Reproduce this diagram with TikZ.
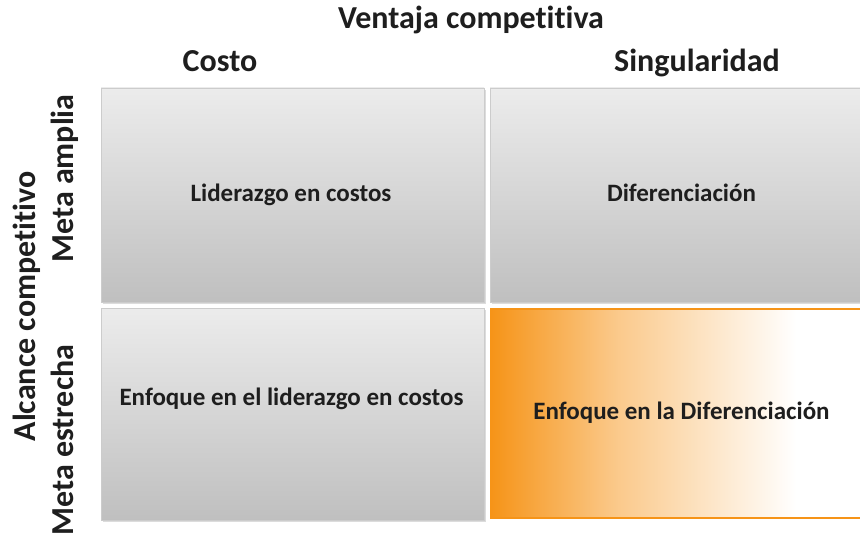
\documentclass[tikz,border=0pt]{standalone}
\usepackage{fontspec}
\setmainfont{Carlito}[Ligatures=NoCommon]
\usetikzlibrary{positioning}
\definecolor{orng}{RGB}{246,148,24}
\definecolor{txt}{RGB}{30,30,30}
\newcommand{\nolig}{\kern0pt}
\pgfdeclarehorizontalshading{orangefade}{100bp}{color(0bp)=(orng); color(25bp)=(orng); color(42bp)=(orng!50); color(66bp)=(white); color(100bp)=(white)}
\tikzset{
  graybox/.style={rectangle, draw=gray!40, line width=0.8pt, top color=gray!15, bottom color=gray!50, inner sep=0pt},
  shadowbox/.style={rectangle, fill=gray!60, opacity=0.45, inner sep=0pt},
  orangebox/.style={rectangle, draw=orng, line width=1.2pt, shading=orangefade, inner sep=0pt},
  head/.style={font=\fontsize{32}{37}\selectfont\bfseries, text=txt, anchor=base, inner sep=0pt},
  boxtext/.style={font=\fontsize{25}{30}\selectfont\bfseries, text=txt, anchor=base, inner sep=0pt},
  side/.style={head, rotate=90}
}
\begin{document}
\begin{tikzpicture}[x=1pt,y=-1pt]
\clip (0,0) rectangle (860,535);
\fill[white] (0,0) rectangle (860,535);
% shadows
\node[shadowbox, minimum width=383pt, minimum height=214pt] (s1) at (294.5,197) {};
\node[shadowbox, minimum width=383pt, minimum height=212pt] (s3) at (294.5,416) {};
\node[shadowbox, minimum width=372pt, minimum height=214pt] (s2) at (678,197) {};
% boxes
\node[graybox, minimum width=383pt, minimum height=214pt] (b1) at (292.5,195) {};
\node[graybox, minimum width=372pt, minimum height=214pt] (b2) at (676,195) {};
\node[graybox, minimum width=383pt, minimum height=212pt] (b3) at (292.5,414) {};
\node[orangebox, minimum width=372pt, minimum height=209pt] (b4) at (677,413.5) {};
% box texts
\node[boxtext] (t1) at (291,201) {Liderazgo en costos};
\node[boxtext] (t2) at (681.5,201) {Diferenciación};
\node[boxtext] (t3) at (291.5,405) {Enfoque en el liderazgo en costos};
\node[boxtext] (t4) at (681.5,419) {Enfoque en la Diferenciación};
% headers
\node[head] (vc) at (471,29) {Ventaja compet\nolig i\nolig t\nolig iva};
\node[head] (costo) at (220,72) {Costo};
\node[head] (sing) at (697,72) {Singularidad};
% side labels
\node[side] (ac) at (35,306.5) {Alcance compet\nolig i\nolig t\nolig ivo};
\node[side] (ma) at (73,178.5) {Meta amplia};
\node[side] (me) at (73,440) {Meta estrecha};
\end{tikzpicture}
\end{document}
